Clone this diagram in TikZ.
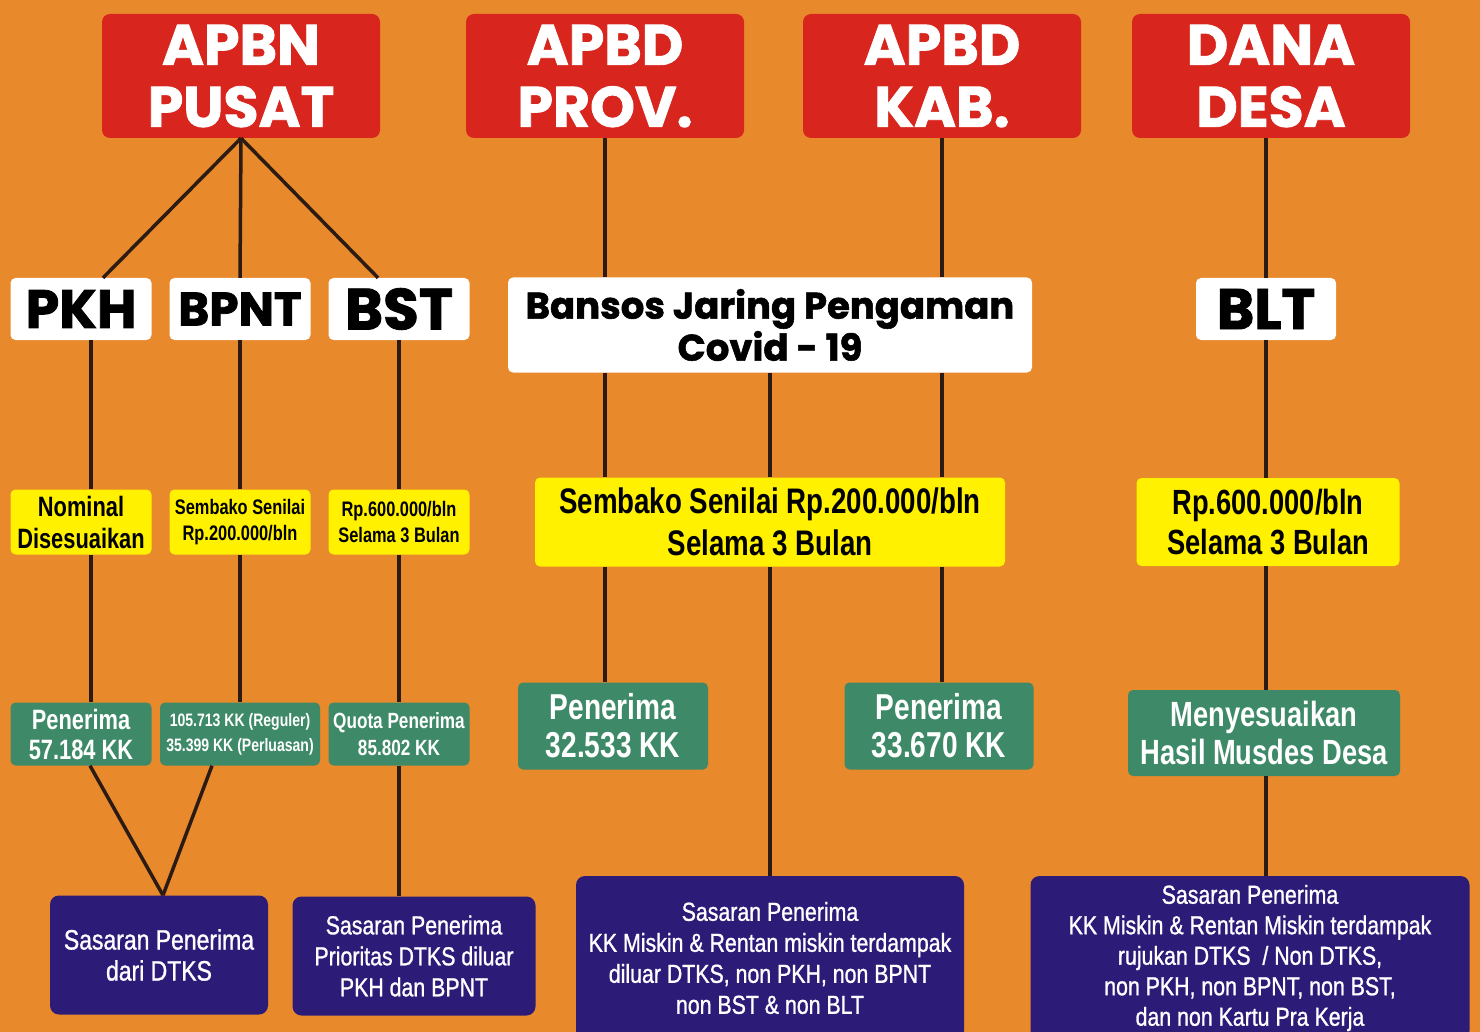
\documentclass[tikz,border=0pt]{standalone}
\usepackage{fontspec}
\usetikzlibrary{calc}
\newfontfamily\judulfont{Poppins}[FakeBold=1.5]
\newfontfamily\sempitfont{Liberation Sans}[FakeStretch=0.78]
\newfontfamily\sasaranfont{Liberation Sans}[FakeStretch=0.82,FakeBold=1]
\definecolor{oranye}{HTML}{E8892B}
\definecolor{merah}{HTML}{D8261E}
\definecolor{kuning}{HTML}{FFF100}
\definecolor{hijau}{HTML}{3E8A68}
\definecolor{ungu}{HTML}{2D1B78}
\definecolor{garisgelap}{HTML}{2B1B12}
\begin{document}
\begin{tikzpicture}[x=1pt,y=-1pt,
    sumber/.style={fill=merah,text=white,rounded corners=8pt,inner sep=0pt,minimum width=278,minimum height=124,align=center,font=\judulfont\bfseries\fontsize{57}{62}\selectfont},
    program/.style={fill=white,rounded corners=5pt,inner sep=0pt,minimum width=141,minimum height=62,align=center,font=\judulfont\bfseries\fontsize{54}{56}\selectfont},
    nilai/.style={fill=kuning,rounded corners=5pt,inner sep=0pt,minimum width=141,minimum height=65,align=center,font=\sempitfont\bfseries\fontsize{28}{32}\selectfont},
    penerima/.style={fill=hijau,text=white,rounded corners=5pt,inner sep=0pt,minimum width=141,minimum height=63,align=center,font=\sempitfont\bfseries\fontsize{28}{30}\selectfont},
    sasaran/.style={fill=ungu,text=white,rounded corners=9pt,inner sep=0pt,align=center,font=\sasaranfont\fontsize{26}{31}\selectfont},
    garis/.style={draw=garisgelap,line width=3.5pt}]
      \useasboundingbox (0,0) rectangle (1480,1032);
      \fill[oranye] (0,0) rectangle (1480,1032);

      \node[sumber] (apbn) at (241,76) {APBN\\PUSAT};
      \node[sumber] (apbdprov) at (605,76) {APBD\\PROV.};
      \node[sumber] (apbdkab) at (942,76) {APBD\\KAB.};
      \node[sumber] (danadesa) at (1271,76) {DANA\\DESA};

      \node[program] (pkh) at (81,309) {PKH};
      \node[program,font=\judulfont\bfseries\fontsize{47}{50}\selectfont] (bpnt) at (240,309) {BPNT};
      \node[program,font=\judulfont\bfseries\fontsize{58}{60}\selectfont] (bst) at (399,309) {BST};
      \node[program,minimum width=524,minimum height=95,font=\judulfont\bfseries\fontsize{37}{42}\selectfont] (bansos) at (770,325) {Bansos Jaring Pengaman\\Covid - 19};
      \node[program,minimum width=140,font=\judulfont\bfseries\fontsize{57}{60}\selectfont] (blt) at (1266,309) {BLT};

      \node[nilai] (nominal) at (81,522) {Nominal\\Disesuaikan};
      \node[nilai,font=\sempitfont\bfseries\fontsize{21}{26}\selectfont] (sembako) at (240,522) {Sembako Senilai\\Rp.200.000/bln};
      \node[nilai,font=\sempitfont\bfseries\fontsize{21}{26}\selectfont] (rpbst) at (399,522) {Rp.600.000/bln\\Selama 3 Bulan};
      \node[nilai,minimum width=470,minimum height=89,font=\sempitfont\bfseries\fontsize{35.5}{42}\selectfont] (sembakojps) at (770,522) {Sembako Senilai Rp.200.000/bln\\Selama 3 Bulan};
      \node[nilai,minimum width=263,minimum height=88,font=\sempitfont\bfseries\fontsize{35}{40}\selectfont] (rpblt) at (1268,522) {Rp.600.000/bln\\Selama 3 Bulan};

      \node[penerima] (pkhkk) at (81,734) {Penerima\\57.184 KK};
      \node[penerima,minimum width=160,font=\sempitfont\bfseries\fontsize{18}{25}\selectfont] (bpntkk) at (240,734) {105.713 KK (Reguler)\\35.399 KK (Perluasan)};
      \node[penerima,font=\sempitfont\bfseries\fontsize{22}{27}\selectfont] (bstkk) at (399,734) {Quota Penerima\\85.802 KK};
      \node[penerima,minimum width=190,minimum height=87,font=\sempitfont\bfseries\fontsize{36}{38}\selectfont] (provkk) at (613,726) {Penerima\\32.533 KK};
      \node[penerima,minimum width=189,minimum height=87,font=\sempitfont\bfseries\fontsize{36}{38}\selectfont] (kabkk) at (939,726) {Penerima\\33.670 KK};
      \node[penerima,minimum width=272,minimum height=86,font=\sempitfont\bfseries\fontsize{35}{38}\selectfont] (musdes) at (1264,733) {Menyesuaikan\\Hasil Musdes Desa};

      \node[sasaran,minimum width=218,minimum height=119,font=\sasaranfont\fontsize{28}{31}\selectfont] (sasarandtks) at (159,955) {Sasaran Penerima\\dari DTKS};
      \node[sasaran,minimum width=243,minimum height=119] (sasaranprio) at (414,956) {Sasaran Penerima\\Prioritas DTKS diluar\\PKH dan BPNT};
      \node[sasaran,minimum width=388,minimum height=164] (sasaranjps) at (770,958) {Sasaran Penerima\\KK Miskin \& Rentan miskin terdampak\\diluar DTKS, non PKH, non BPNT\\non BST \& non BLT};
      \node[sasaran,minimum width=439,minimum height=164,font=\sasaranfont\fontsize{26}{30.5}\selectfont] (sasaranblt) at (1250,958) {Sasaran Penerima\\KK Miskin \& Rentan Miskin terdampak\\rujukan DTKS~~/ Non DTKS,\\non PKH, non BPNT, non BST,\\dan non Kartu Pra Kerja};

      \draw[garis] (apbn.south) -- ([xshift=22]pkh.north);
      \draw[garis] (apbn.south) -- (bpnt.north);
      \draw[garis] (apbn.south) -- ([xshift=-21]bst.north);
      \draw[garis] (apbdprov.south) -- (apbdprov.south |- bansos.north);
      \draw[garis] (apbdkab.south) -- (apbdkab.south |- bansos.north);
      \draw[garis] (blt.north |- danadesa.south) -- (blt.north);

      \draw[garis] ([xshift=10]pkh.south) -- ([xshift=10]nominal.north);
      \draw[garis] (bpnt.south) -- (sembako.north);
      \draw[garis] (bst.south) -- (rpbst.north);
      \draw[garis] (apbdprov.south |- bansos.south) -- (apbdprov.south |- sembakojps.north);
      \draw[garis] (bansos.south) -- (sembakojps.north);
      \draw[garis] (apbdkab.south |- bansos.south) -- (apbdkab.south |- sembakojps.north);
      \draw[garis] (blt.south) -- (blt.south |- rpblt.north);

      \draw[garis] ([xshift=10]nominal.south) -- ([xshift=10]pkhkk.north);
      \draw[garis] (sembako.south) -- (bpntkk.north);
      \draw[garis] (rpbst.south) -- (bstkk.north);
      \draw[garis] (apbdprov.south |- sembakojps.south) -- (apbdprov.south |- provkk.north);
      \draw[garis] (apbdkab.south |- sembakojps.south) -- (apbdkab.south |- kabkk.north);
      \draw[garis] (rpblt.south -| blt.south) -- (musdes.north -| blt.south);

      \draw[garis] ([xshift=9]pkhkk.south) -- ([xshift=4]sasarandtks.north);
      \draw[garis] ([xshift=-28]bpntkk.south) -- ([xshift=4]sasarandtks.north);
      \draw[garis] (bstkk.south) -- (bstkk.south |- sasaranprio.north);
      \draw[garis] (sembakojps.south) -- (sasaranjps.north);
      \draw[garis] (musdes.south -| blt.south) -- (sasaranblt.north -| blt.south);
    \end{tikzpicture}
\end{document}
